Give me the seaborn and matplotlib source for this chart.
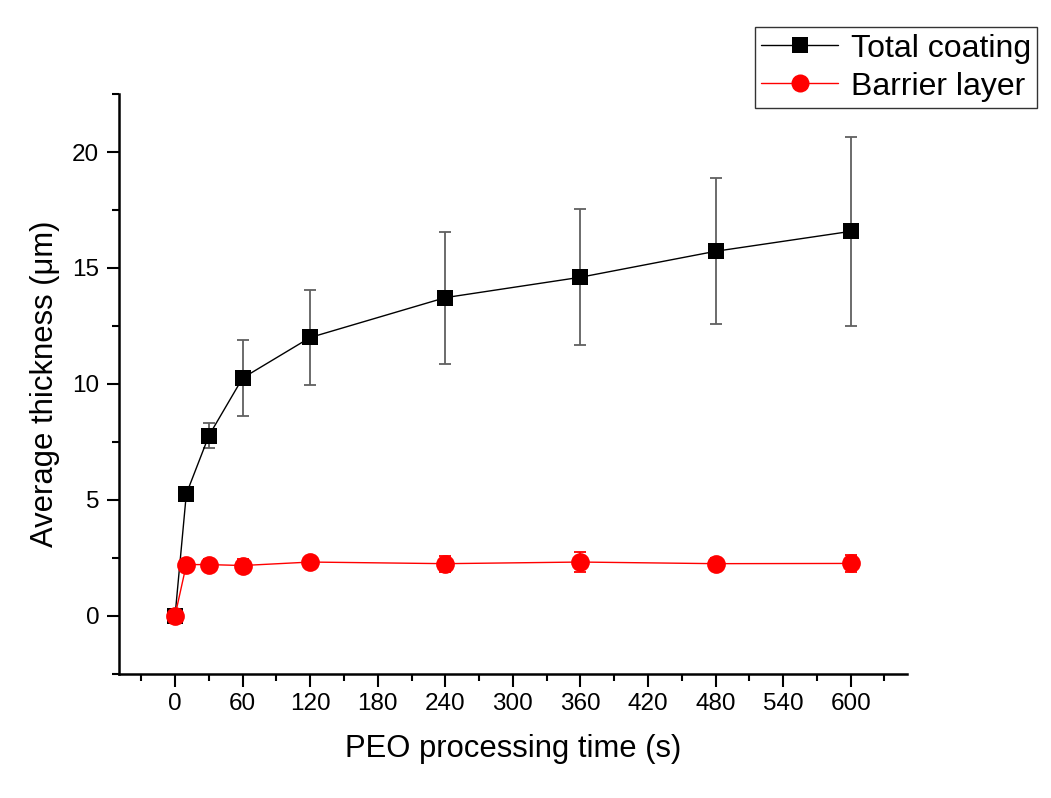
import matplotlib
matplotlib.use("Agg")
import matplotlib.pyplot as plt
import seaborn as sns
import pandas as pd
import numpy as np
from matplotlib.lines import Line2D

time_s = [0, 10, 30, 60, 120, 240, 360, 480, 600]
total_coating = [0.0, 5.25, 7.76, 10.25, 12.0, 13.72, 14.6, 15.72, 16.58]
total_err = [0.0, 0.15, 0.55, 1.65, 2.03, 2.85, 2.94, 3.15, 4.07]
barrier_layer = [0.0, 2.2, 2.2, 2.16, 2.31, 2.24, 2.31, 2.24, 2.25]
barrier_err = [0.0, 0.1, 0.25, 0.3, 0.2, 0.35, 0.45, 0.25, 0.35]
x_ticks = [0, 60, 120, 180, 240, 300, 360, 420, 480, 540, 600]
y_ticks = [0, 5, 10, 15, 20]

sns.set_theme(style="ticks")
plt.rcParams['font.family'] = ['Liberation Sans', 'DejaVu Sans']
plt.rcParams['text.color'] = 'black'
plt.rcParams['axes.labelcolor'] = 'black'

fig = plt.figure(figsize=(10.51, 7.98), dpi=100)
ax = fig.add_axes([0.113, 0.156, 0.750, 0.726])

df = pd.DataFrame({
    "time": time_s * 2,
    "thickness": total_coating + barrier_layer,
    "series": ["Total coating"] * len(time_s) + ["Barrier layer"] * len(time_s),
})

ax.errorbar(time_s, total_coating, yerr=total_err, fmt='none', ecolor='#606060',
            elinewidth=1.3, capsize=4.5, capthick=1.3, zorder=2)
ax.errorbar(time_s, barrier_layer, yerr=barrier_err, fmt='none', ecolor='red',
            elinewidth=1.3, capsize=4.5, capthick=1.3, zorder=2)

sns.lineplot(data=df, x="time", y="thickness", hue="series", style="series",
             hue_order=["Total coating", "Barrier layer"],
             style_order=["Total coating", "Barrier layer"],
             palette={"Total coating": "black", "Barrier layer": "red"},
             markers={"Total coating": "s", "Barrier layer": "o"},
             dashes=False, linewidth=1.0, markersize=12, markeredgewidth=0,
             ax=ax, legend=False, zorder=3)
for ln in ax.get_lines():
    if ln.get_marker() == 'o':
        ln.set_markersize(13.5)
        ln.set_zorder(4)
    elif ln.get_marker() == 's':
        ln.set_markersize(11.5)

ax.set_xlim(-50, 650)
ax.set_ylim(-2.5, 22.5)
ax.set_xticks(x_ticks)
ax.set_xticks([-30] + [t + 30 for t in x_ticks], minor=True)
ax.set_yticks(y_ticks)
ax.set_yticks([-2.5, 2.5, 7.5, 12.5, 17.5, 22.5], minor=True)
ax.tick_params(axis='both', which='major', direction='out', length=9, width=1.5,
               labelsize=17.5, color='black', labelcolor='black', pad=5)
ax.tick_params(axis='both', which='minor', direction='out', length=5, width=1.5,
               color='black')
for s in ['left', 'bottom']:
    ax.spines[s].set_linewidth(1.8)
    ax.spines[s].set_color('black')
sns.despine(ax=ax)

ax.set_xlabel("PEO processing time (s)", fontsize=22.3, color='black', labelpad=14)
ax.set_ylabel("Average thickness (μm)", fontsize=22.3, color='black', labelpad=9)

handles = [
    Line2D([], [], color='black', lw=1.0, marker='s', markersize=11, markeredgewidth=0),
    Line2D([], [], color='red', lw=1.0, marker='o', markersize=13, markeredgewidth=0),
]
leg = fig.legend(handles, ["Total coating", "Barrier layer"],
                 loc='upper right', bbox_to_anchor=(0.987, 0.966),
                 fontsize=23, frameon=True, fancybox=False, edgecolor='black',
                 handlelength=2.4, borderpad=0.2, labelspacing=0.25,
                 handletextpad=0.4, borderaxespad=0)
leg.get_frame().set_linewidth(1.0)
for t in leg.get_texts():
    t.set_color('black')

fig.savefig("out.png", dpi=100, facecolor='white')
